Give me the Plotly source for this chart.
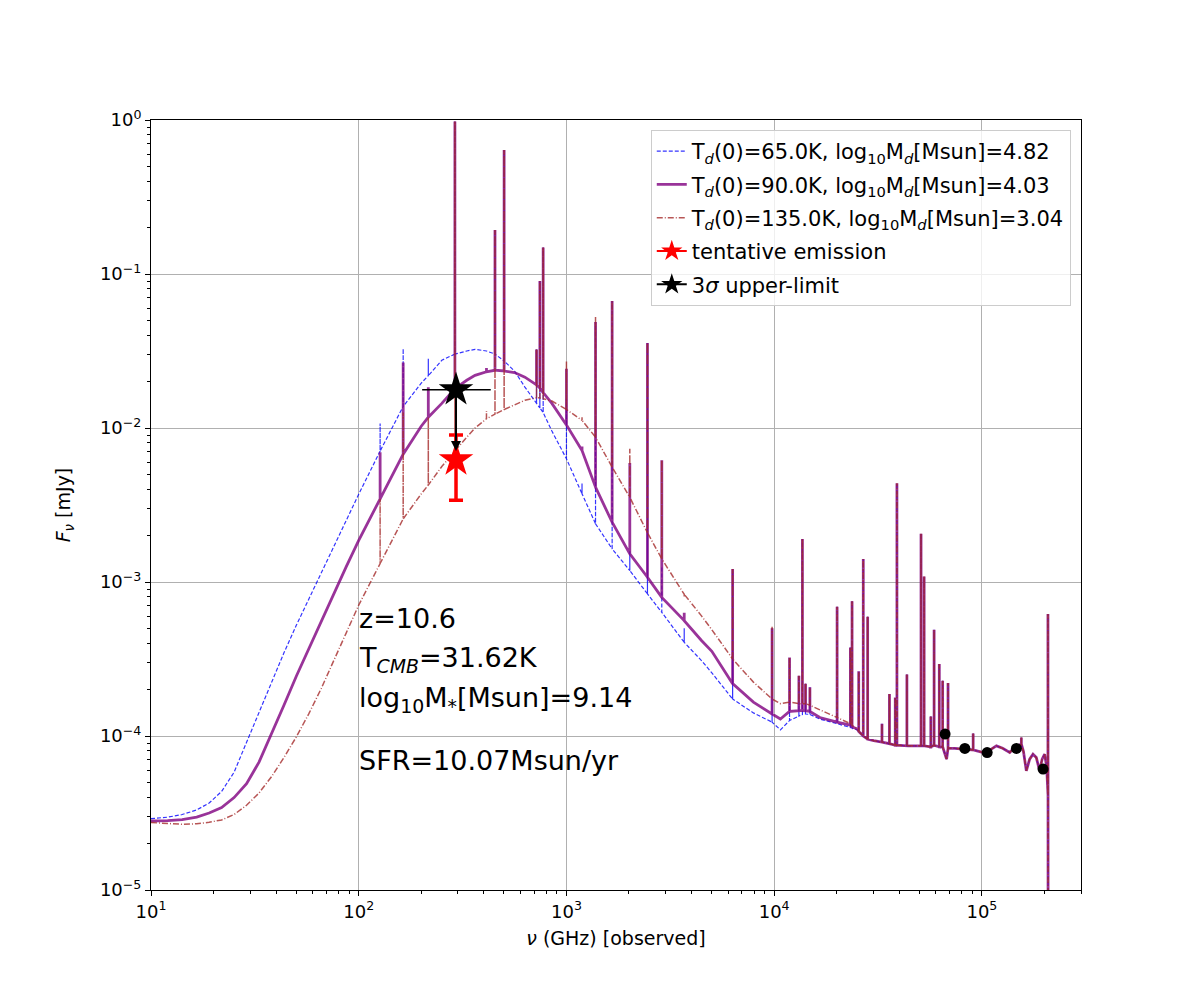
import numpy as np
import plotly.graph_objects as go

# --- dust part of the three models (log10 nu [GHz], log10 F [mJy]) ---
log_nu_dust = [1.0, 1.08, 1.15, 1.22, 1.28, 1.34, 1.40, 1.46, 1.52, 1.58,
               1.64, 1.70, 1.76, 1.82, 1.88, 1.94, 2.0,
               2.103, 2.214, 2.3, 2.335, 2.4, 2.463, 2.52, 2.56, 2.615,
               2.656, 2.70, 2.75, 2.80, 2.856, 2.872, 2.888, 2.93, 3.0, 3.075,
               3.14, 3.22, 3.305, 3.39, 3.459, 3.567, 3.65, 3.70, 3.80, 3.90,
               3.99, 4.03, 4.074, 4.119, 4.136, 4.151, 4.172, 4.22, 4.303, 4.367,
               4.375, 4.40]

log_f_65K = [-4.537, -4.527, -4.51, -4.48, -4.435, -4.36, -4.235, -4.04, -3.84, -3.65,
             -3.46, -3.28, -3.11, -2.94, -2.76, -2.59, -2.43,
             -2.15, -1.86, -1.71, -1.66, -1.56, -1.52, -1.50, -1.489, -1.50,
             -1.52, -1.565, -1.63, -1.734, -1.84, -1.87, -1.90, -2.02, -2.20, -2.427,
             -2.622, -2.785, -2.926, -3.077, -3.197, -3.392, -3.51, -3.59, -3.76, -3.85,
             -3.91, -3.96, -3.90, -3.87, -3.86, -3.857, -3.86, -3.89, -3.92, -3.945,
             -3.95, -3.96]

log_f_90K = [-4.552, -4.55, -4.543, -4.527, -4.50, -4.465, -4.40, -4.31, -4.17, -3.99,
             -3.80, -3.61, -3.43, -3.25, -3.075, -2.90, -2.73,
             -2.46, -2.17, -1.99, -1.93, -1.84, -1.745, -1.69, -1.658, -1.635,
             -1.625, -1.63, -1.64, -1.67, -1.72, -1.74, -1.77, -1.84, -1.98, -2.146,
             -2.384, -2.612, -2.817, -2.969, -3.10, -3.251, -3.38, -3.45, -3.66, -3.78,
             -3.857, -3.89, -3.84, -3.835, -3.835, -3.836, -3.84, -3.88, -3.91, -3.93,
             -3.94, -3.955]

log_f_135K = [-4.562, -4.57, -4.573, -4.57, -4.56, -4.545, -4.51, -4.45, -4.37, -4.265,
              -4.14, -4.005, -3.855, -3.69, -3.515, -3.33, -3.15,
              -2.88, -2.59, -2.43, -2.37, -2.25, -2.15, -2.06, -2.00, -1.94,
              -1.91, -1.88, -1.85, -1.82, -1.803, -1.805, -1.81, -1.825, -1.88, -1.95,
              -2.06, -2.254, -2.45, -2.68, -2.85, -3.08, -3.22, -3.31, -3.50, -3.65,
              -3.76, -3.79, -3.78, -3.79, -3.79, -3.79, -3.80, -3.83, -3.88, -3.92,
              -3.93, -3.955]

# emission lines on the dust part: peak per model
line_nu_dust = [2.103, 2.214, 2.335, 2.463, 2.615, 2.656, 2.70, 2.856, 2.872, 2.888,
                3.0, 3.075, 3.14, 3.22, 3.305, 3.39, 3.459, 3.567, 3.80, 3.99,
                4.074, 4.119, 4.136, 4.151, 4.172, 4.303, 4.367, 4.375]
peak_65K = [-1.97, -1.484, -1.55, -0.01, -1.50, -0.715, -0.195, -1.49, -1.045, -0.828,
            -1.81, -2.36, -1.311, -1.175, -2.80, -1.448, -2.90, -3.30, -2.915, -3.30,
            -3.49, -3.609, -2.72, -3.66, -3.684, -3.16, -3.425, -3.125]
peak_90K = [-2.157, -1.575, -1.735, -0.01, -1.61, -0.715, -0.195, -1.49, -1.045, -0.828,
            -1.615, -2.12, -1.311, -1.175, -2.228, -1.448, -2.21, -3.20, -2.915, -3.30,
            -3.49, -3.609, -2.72, -3.66, -3.684, -3.16, -3.425, -3.125]
peak_135K = [-2.46, -1.90, -1.93, -0.01, -1.89, -0.715, -0.195, -1.49, -1.045, -0.828,
             -1.567, -1.93, -1.279, -1.175, -2.135, -1.448, -2.21, -3.10, -2.915, -3.29,
             -3.49, -3.609, -2.72, -3.66, -3.684, -3.16, -3.425, -3.125]

# stellar part, same for all three models
log_nu_star = [4.407, 4.429, 4.45, 4.479, 4.519, 4.555, 4.583, 4.591, 4.639, 4.671,
               4.707, 4.722, 4.754, 4.77, 4.795, 4.811, 4.83, 4.837, 4.87, 4.926,
               4.958, 5.006, 5.04, 5.07, 5.10, 5.134, 5.16, 5.19, 5.20, 5.214,
               5.23, 5.246, 5.262, 5.278, 5.29, 5.302, 5.312, 5.318, 5.319]
log_f_star = [-3.97, -4.0, -4.02, -4.03, -4.04, -4.05, -4.06, -4.06, -4.064, -4.064,
              -4.064, -4.064, -4.07, -4.06, -4.07, -4.07, -4.15, -4.08, -4.08, -4.085,
              -4.09, -4.107, -4.09, -4.064, -4.08, -4.107, -4.07, -4.053, -4.10, -4.226,
              -4.15, -4.118, -4.14, -4.226, -4.15, -4.118, -4.2, -4.378, -6.0]
line_nu_star = [4.407, 4.429, 4.45, 4.519, 4.555, 4.583, 4.591, 4.639, 4.707, 4.722,
                4.754, 4.77, 4.795, 4.811, 4.837, 4.958, 5.19, 5.318]
peak_star = [-3.58, -2.85, -3.225, -3.92, -3.728, -3.75, -2.358, -3.60, -2.687, -2.965,
             -3.873, -3.31, -3.533, -3.641, -3.656, -3.984, -4.01, -3.207]

# photometry (black dots)
phot_nu = [66.5e3, 82.8e3, 106e3, 146.6e3, 197e3]
phot_f = [1.03e-4, 8.3e-5, 7.8e-5, 8.3e-5, 6.1e-5]

# ALMA points
tent_nu, tent_f, tent_err = [294], [6.2e-3], [2.8e-3]
ul_nu, ul_f, ul_lo, ul_hi = [294], [0.0177], [92], [138]
ul_arrow_to = 0.0071


def sed(log_f_dust, peaks):
    pk = dict(zip(line_nu_dust, peaks))
    pk.update(dict(zip(line_nu_star, peak_star)))
    xs, ys = [], []
    for n, f in zip(log_nu_dust + log_nu_star, log_f_dust + log_f_star):
        xs.append(n)
        ys.append(f)
        if n in pk:
            xs += [n, n]
            ys += [pk[n], f]
    return 10 ** np.array(xs), 10 ** np.array(ys)


FONT = "DejaVu Sans"
fig = go.Figure()

models = [
    (log_f_65K, peak_65K, "rgba(0,0,255,0.8)", 1.2, "4px,2px",
     "T<sub><i>d</i></sub>(0)=65.0K, log<sub>10</sub>M<sub><i>d</i></sub>[Msun]=4.82"),
    (log_f_90K, peak_90K, "rgba(128,0,128,0.8)", 2.8, "solid",
     "T<sub><i>d</i></sub>(0)=90.0K, log<sub>10</sub>M<sub><i>d</i></sub>[Msun]=4.03"),
    (log_f_135K, peak_135K, "rgba(165,42,42,0.8)", 1.5, "6px,2px,1px,2px",
     "T<sub><i>d</i></sub>(0)=135.0K, log<sub>10</sub>M<sub><i>d</i></sub>[Msun]=3.04"),
]
for i, (lf, pk, col, w, dash, name) in enumerate(models):
    x, y = sed(lf, pk)
    fig.add_trace(go.Scatter(x=x, y=y, mode="lines", name=name, legendgroup=f"g{i}",
                             line=dict(color=col, width=w, dash=dash)))

fig.add_trace(go.Scatter(
    x=tent_nu, y=tent_f, mode="lines+markers", name="tentative emission",
    legendgroup="g3",
    marker=dict(symbol="star", size=26, color="red"),
    line=dict(color="red", width=2),
    error_y=dict(type="data", array=tent_err, color="red", thickness=3.5, width=7)))

fig.add_trace(go.Scatter(
    x=ul_nu, y=ul_f, mode="lines+markers", name="3<i>σ</i> upper-limit",
    legendgroup="g4",
    marker=dict(symbol="star", size=26, color="black"),
    line=dict(color="black", width=2),
    error_x=dict(type="data", array=ul_hi, arrayminus=ul_lo, color="black",
                 thickness=1.5, width=0)))

fig.add_annotation(x=np.log10(ul_nu[0]), y=np.log10(ul_arrow_to),
                   ax=np.log10(ul_nu[0]), ay=np.log10(ul_f[0]),
                   xref="x", yref="y", axref="x", ayref="y", text="",
                   showarrow=True, arrowhead=2, arrowsize=1, arrowwidth=2,
                   arrowcolor="black")

fig.add_trace(go.Scatter(x=phot_nu, y=phot_f, mode="markers", showlegend=False,
                         marker=dict(size=11, color="black")))

# info text
info = [("z=10.6", -3.24), ("T<sub><i>CMB</i></sub>=31.62K", -3.50),
        ("log<sub>10</sub>M<sub>*</sub>[Msun]=9.14", -3.76),
        ("SFR=10.07Msun/yr", -4.16)]
for txt, ly in info:
    fig.add_annotation(x=2.0, y=ly, xref="x", yref="y", text=txt, showarrow=False,
                       xanchor="left", yanchor="middle", xshift=-2,
                       font=dict(family=FONT, size=27, color="black"))

minor_x = [m * 10 ** d for d in range(1, 6) for m in range(2, 10)]
minor_y = [m * 10 ** d for d in range(-5, 0) for m in range(2, 10)]

axis_common = dict(type="log", showline=True, mirror=True, linecolor="black",
                   linewidth=1, ticks="outside", ticklen=5, tickcolor="black",
                   showgrid=True, gridcolor="#b0b0b0", gridwidth=1, zeroline=False,
                   tickfont=dict(family=FONT, size=18, color="black"))

fig.update_xaxes(**axis_common, range=[1, np.log10(3e5)],
                 tickvals=[1e1, 1e2, 1e3, 1e4, 1e5],
                 ticktext=["10<sup>1</sup>", "10<sup>2</sup>", "10<sup>3</sup>",
                           "10<sup>4</sup>", "10<sup>5</sup>"],
                 minor=dict(tickvals=minor_x, ticks="outside", ticklen=3,
                            tickcolor="black", showgrid=False),
                 title=dict(text="<i>ν</i> (GHz) [observed]", standoff=11,
                            font=dict(family=FONT, size=19, color="black")))
fig.update_yaxes(**axis_common, range=[-5, 0],
                 tickvals=[1e-5, 1e-4, 1e-3, 1e-2, 1e-1, 1],
                 ticktext=["10<sup>−5</sup>", "10<sup>−4</sup>", "10<sup>−3</sup>",
                           "10<sup>−2</sup>", "10<sup>−1</sup>", "10<sup>0</sup>"],
                 minor=dict(tickvals=minor_y, ticks="outside", ticklen=3,
                            tickcolor="black", showgrid=False),
                 title=dict(text="<i>F<sub>ν</sub></i> [mJy]", standoff=24,
                            font=dict(family=FONT, size=19, color="black")))

fig.update_layout(
    width=1200, height=1000,
    margin=dict(l=143, r=127, t=112, b=118),
    plot_bgcolor="white", paper_bgcolor="white",
    font=dict(family=FONT, color="black"),
    legend=dict(x=0.989, y=0.987, xanchor="right", yanchor="top",
                bgcolor="rgba(255,255,255,0.8)", bordercolor="#cccccc",
                borderwidth=1, font=dict(family=FONT, size=21, color="black"),
                tracegroupgap=3),
)

fig.write_html("out.html")
